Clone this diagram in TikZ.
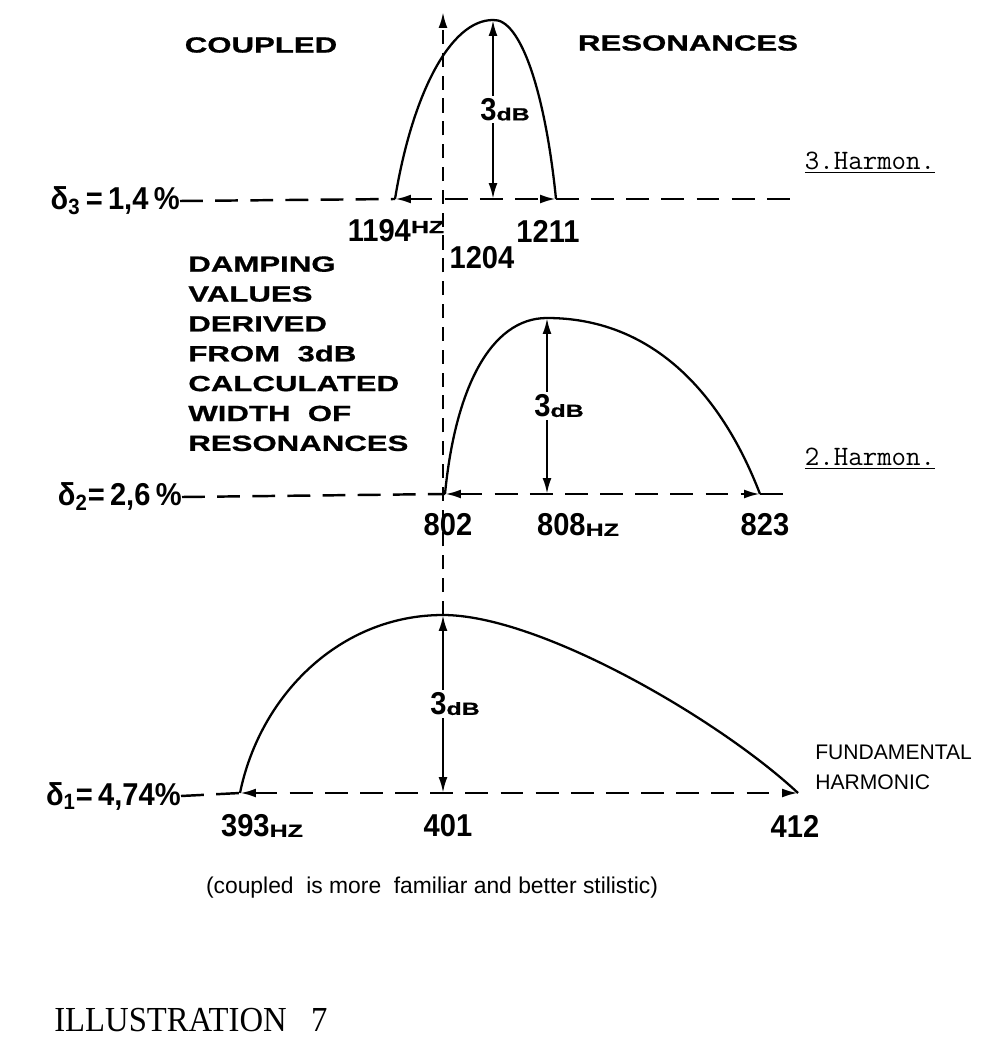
\documentclass[tikz,border=0pt]{standalone}
\usepackage{fontspec}
\setmainfont{Liberation Serif}
\setsansfont{Liberation Sans}
\newfontfamily\widefont[FakeStretch=1.42,FakeBold=0.8]{Liberation Sans}
\newfontfamily\numfont[FakeStretch=0.92]{Liberation Sans}
\newfontfamily\illfont[FakeStretch=0.93]{Liberation Serif}
\usetikzlibrary{arrows.meta,positioning,calc}
\newcommand{\dB}{{\numfont\bfseries\fontsize{18}{20}\selectfont 3}{\widefont\bfseries\fontsize{10}{12}\selectfont dB}}
\newcommand{\hz}{{\widefont\bfseries\fontsize{10}{12}\selectfont HZ}}

\begin{document}
\begin{tikzpicture}[x=0.02cm,y=-0.02cm,
base/.style={line width=1.4pt,dash pattern=on 13pt off 7pt},
guide/.style={line width=1.3pt,dash pattern=on 8pt off 5pt},
curve/.style={line width=1.3pt},
tip/.style={-{Latex[length=9pt,width=5pt]}},
wtips/.style={{Latex[length=9pt,width=5pt]}-{Latex[length=9pt,width=5pt]}},
head/.style={font=\widefont\bfseries\fontsize{12.5}{17}\selectfont,inner sep=0pt},
num/.style={font=\numfont\bfseries\fontsize{18}{20}\selectfont,inner sep=0pt},
gap/.style={fill=white,inner sep=1.5pt,xshift=0.24cm},
harm/.style={font=\ttfamily\fontsize{16}{18}\selectfont,inner sep=0pt},
note/.style={font=\sffamily\fontsize{12}{17}\selectfont,inner sep=0pt}]
\useasboundingbox (0,0) rectangle (996,1047);

% headings
\node[head] (coupled) at (261,45) {COUPLED};
\node[head] (reson) at (688,43) {RESONANCES};
\node[head,align=left,anchor=north west] (damping) at (188,256)
  {DAMPING\\VALUES\\DERIVED\\FROM\ \ 3dB\\CALCULATED\\WIDTH\ \ OF\\RESONANCES};

% 3. harmonic
\node[num,anchor=east] (d3) at (180,201) {δ\textsubscript{3}\,=\,1,4\,\%};
\coordinate (f3L) at (395,199);
\coordinate (f3R) at (556,199);
\coordinate (p3) at (493,20);
\coordinate (b3) at (493,199);
\coordinate (e3) at (800,199);
\draw[base] (d3.east) -- (f3L);
\draw[base,wtips] (f3L) -- (f3R);
\draw[base] (f3R) -- (e3);
\draw[curve] (f3L) .. controls (412,95) and (450,20) .. (p3)
  .. controls (520,18) and (545,90) .. (f3R);
\draw[curve,wtips] (p3) -- node[gap] (db3) {\dB} (b3);
\node[num] (n1194) at (396,231) {1194\raisebox{5pt}{\hz}};
\node[num] (n1204) at (482,258) {1204};
\node[num] (n1211) at (548,231) {1211};
\node[harm] (h3) at (870,163) {\underline{3.Harmon.}};

% 2. harmonic
\node[num,anchor=east] (d2) at (182,497) {δ\textsubscript{2}=\,2,6\,\%};
\coordinate (f2L) at (445,494);
\coordinate (f2R) at (760,494);
\coordinate (p2) at (547,318);
\coordinate (b2) at (547,494);
\coordinate (e2) at (795,494);
\draw[base] (d2.east) -- (f2L);
\draw[base,wtips] (f2L) -- (f2R);
\draw[base] (f2R) -- (e2);
\draw[curve] (f2L) .. controls (455,390) and (490,318) .. (p2)
  .. controls (650,318) and (720,390) .. (f2R);
\draw[curve,wtips] (p2) -- node[gap] (db2) {\dB} (b2);
\node[num] (n802) at (448,525) {802};
\node[num] (n808) at (578,525) {808\hz};
\node[num] (n823) at (765,525) {823};
\node[harm] (h2) at (870,459) {\underline{2.Harmon.}};

% fundamental
\node[num,anchor=east] (d1) at (181,796) {δ\textsubscript{1}=\,4,74\%};
\coordinate (f1L) at (240,793);
\coordinate (f1R) at (798,793);
\coordinate (p1) at (443,615);
\coordinate (b1) at (443,793);
\draw[base] (d1.east) -- (f1L);
\draw[base,wtips] (f1L) -- (f1R);
\draw[curve] (f1L) .. controls (260,695) and (340,615) .. (p1)
  .. controls (540,615) and (720,720) .. (f1R);
\draw[curve,wtips] (p1) -- node[gap] (db1) {\dB} (b1);
\node[num] (n393) at (262,826) {393\hz};
\node[num] (n401) at (448,826) {401};
\node[num] (n412) at (795,826) {412};
\node[note,align=left,anchor=west] (fund) at (815,767) {FUNDAMENTAL\\HARMONIC};

% guide line through the resonances
\coordinate (top) at (443,12);
\draw[guide,tip] (p1) -- (top);

% remarks
\node[note,font=\sffamily\fontsize{13}{17}\selectfont] (remark) at (432,888) {(coupled\ \ is more\ \ familiar and better stilistic)};
\node[anchor=west,inner sep=0pt,font=\illfont\fontsize{20}{24}\selectfont] (illu) at (54,1020) {ILLUSTRATION\ \ \ 7};
\end{tikzpicture}
\end{document}
